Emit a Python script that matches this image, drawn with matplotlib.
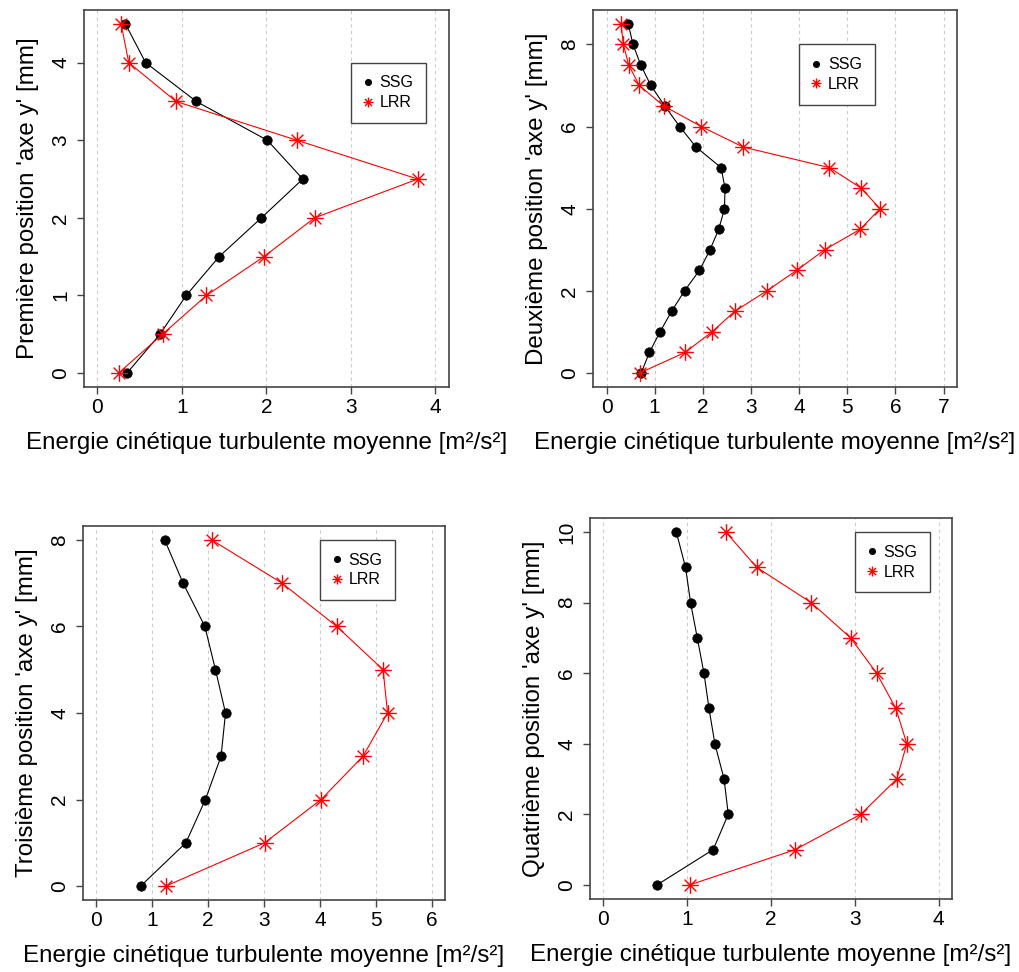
import matplotlib.pyplot as plt
from matplotlib.path import Path
from matplotlib.lines import Line2D

plt.rcParams['font.family'] = ['Liberation Sans', 'DejaVu Sans']

y1 = [0, 0.5, 1, 1.5, 2, 2.5, 3, 3.5, 4, 4.5]
ssg1 = [0.35, 0.74, 1.05, 1.44, 1.94, 2.43, 2.01, 1.17, 0.57, 0.33]
lrr1 = [0.25, 0.77, 1.29, 1.97, 2.57, 3.79, 2.36, 0.93, 0.37, 0.28]

y2 = [0, 0.5, 1, 1.5, 2, 2.5, 3, 3.5, 4, 4.5, 5, 5.5, 6, 6.5, 7, 7.5, 8, 8.5]
ssg2 = [0.72, 0.89, 1.11, 1.35, 1.62, 1.93, 2.15, 2.33, 2.45, 2.46, 2.38, 1.86,
        1.52, 1.21, 0.92, 0.71, 0.55, 0.45]
lrr2 = [0.69, 1.63, 2.19, 2.66, 3.33, 3.95, 4.53, 5.27, 5.68, 5.29, 4.63, 2.84,
        1.97, 1.19, 0.68, 0.46, 0.35, 0.30]

y3 = [0, 1, 2, 3, 4, 5, 6, 7, 8]
ssg3 = [0.79, 1.60, 1.95, 2.23, 2.31, 2.13, 1.94, 1.55, 1.22]
lrr3 = [1.24, 3.01, 4.02, 4.77, 5.21, 5.13, 4.30, 3.32, 2.06]

y4 = [0, 1, 2, 3, 4, 5, 6, 7, 8, 9, 10]
ssg4 = [0.64, 1.31, 1.49, 1.44, 1.33, 1.26, 1.20, 1.12, 1.04, 0.98, 0.87]
lrr4 = [1.03, 2.29, 3.07, 3.50, 3.62, 3.49, 3.26, 2.95, 2.48, 1.83, 1.46]

ylabels = ["Première position 'axe y' [mm]", "Deuxième position 'axe y' [mm]",
           "Troisième position 'axe y' [mm]", "Quatrième position 'axe y' [mm]"]
xlabel = "Energie cinétique turbulente moyenne [m²/s²]"

xticks = [[0, 1, 2, 3, 4], [0, 1, 2, 3, 4, 5, 6, 7], [0, 1, 2, 3, 4, 5, 6], [0, 1, 2, 3, 4]]
yticks = [[0, 1, 2, 3, 4], [0, 2, 4, 6, 8], [0, 2, 4, 6, 8], [0, 2, 4, 6, 8, 10]]
legend_at = [(3, 4), (4, 8), (4, 8), (3, 10)]

data = [(y1, ssg1, lrr1), (y2, ssg2, lrr2), (y3, ssg3, lrr3), (y4, ssg4, lrr4)]

rects = [[0.0824, 0.6019, 0.3582, 0.3879],
         [0.5820, 0.6019, 0.3572, 0.3879],
         [0.0815, 0.0741, 0.3553, 0.3848],
         [0.5790, 0.0751, 0.3553, 0.3920]]

# asterisque facon R (pch = 8)
d = 0.7071
star = Path([(-1, 0), (1, 0), (0, -1), (0, 1), (-d, -d), (d, d), (-d, d), (d, -d)],
            [Path.MOVETO, Path.LINETO] * 4)


def expand(lo, hi):
    m = 0.04 * (hi - lo)
    return lo - m, hi + m


fig = plt.figure(figsize=(10.19, 9.72), dpi=100)
frame = '#444444'

for i, (y, ssg, lrr) in enumerate(data):
    ax = fig.add_axes(rects[i])
    ax.plot(ssg, y, color='black', lw=0.8, marker='o', ms=6.8,
            mfc='black', mec='black', mew=0.5)
    ax.plot(lrr, y, color='red', lw=0.8, marker=star, ms=12,
            mfc='none', mec='red', mew=1.0)

    ax.set_xlim(expand(xticks[i][0], xticks[i][-1]))
    ax.set_ylim(expand(y[0], y[-1]))
    ax.set_xticks(xticks[i])
    ax.set_yticks(yticks[i])
    ax.grid(axis='x', linestyle=(0, (3, 3)), color='#cccccc', lw=0.8)
    ax.set_axisbelow(True)

    for s in ax.spines.values():
        s.set_color(frame)
        s.set_linewidth(1.2)
    ax.tick_params(direction='out', length=5, width=1, color=frame,
                   labelsize=15)
    ax.tick_params(axis='x', pad=3)
    ax.tick_params(axis='y', pad=5, labelrotation=90)
    for t in ax.get_yticklabels():
        t.set_va('center')

    ax.set_xlabel(xlabel, fontsize=17.4, labelpad=11)
    ax.set_ylabel(ylabels[i], fontsize=17.4, labelpad=9)

    handles = [Line2D([], [], ls='none', marker='o', ms=6.8, color='black'),
               Line2D([], [], ls='none', marker=star, ms=12, mfc='none',
                      mec='red', mew=1.0)]
    leg = ax.legend(handles, ['SSG', 'LRR'], loc='upper left',
                    bbox_to_anchor=legend_at[i], bbox_transform=ax.transData,
                    fontsize=11.5, markerscale=0.6, fancybox=False,
                    framealpha=1, edgecolor=frame, borderpad=0.8,
                    labelspacing=0.3, handlelength=0.5, handletextpad=0.5,
                    borderaxespad=0)
    leg.get_frame().set_linewidth(1.0)

fig.savefig('out.png', dpi=100)
